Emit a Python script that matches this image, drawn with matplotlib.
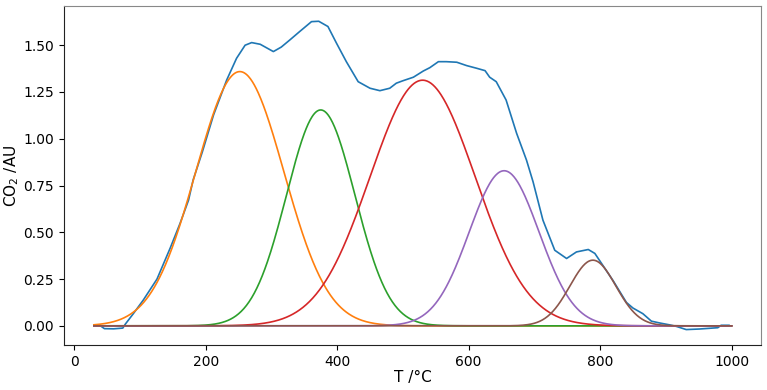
import numpy as np
import matplotlib
matplotlib.use("Agg")
import matplotlib.pyplot as plt

T_meas = [30, 40, 46, 60, 74, 78, 90, 105, 126, 146, 161, 174, 181, 195, 212,
          232, 247, 260, 270, 283, 303, 315, 328, 343, 361, 372, 379, 386, 399,
          414, 432, 450, 465, 480, 490, 500, 516, 531, 541, 554, 566, 582, 597,
          612, 625, 632, 642, 657, 673, 688, 698, 713, 731, 749, 764, 782, 792,
          800, 820, 840, 850, 865, 878, 891, 906, 916, 931, 951, 979, 984, 996]
co2_meas = [0.0, 0.0, -0.015, -0.016, -0.012, 0.01, 0.065, 0.137, 0.25, 0.415,
            0.547, 0.672, 0.78, 0.93, 1.127, 1.314, 1.43, 1.50, 1.514, 1.505,
            1.466, 1.49, 1.528, 1.573, 1.626, 1.628, 1.614, 1.60, 1.511, 1.412,
            1.305, 1.27, 1.257, 1.27, 1.297, 1.31, 1.329, 1.362, 1.38, 1.412,
            1.412, 1.409, 1.391, 1.377, 1.364, 1.329, 1.305, 1.207, 1.029, 0.886,
            0.77, 0.565, 0.404, 0.36, 0.395, 0.408, 0.387, 0.345, 0.24, 0.125,
            0.095, 0.065, 0.025, 0.015, 0.005, -0.003, -0.02, -0.017, -0.01,
            0.003, 0.003]

## Fitted gaussian peaks
centers = [252, 375, 530, 654, 789]
heights = [1.359, 1.154, 1.313, 0.829, 0.351]
sigmas = [67, 52, 80, 53, 35]
peak_colors = ["tab:orange", "tab:green", "tab:red", "tab:purple", "tab:brown"]

T = np.linspace(30, 1000, 971)

fig = plt.figure(figsize=(7.67, 3.9), dpi=100)
ax = fig.add_axes([0.0834, 0.1154, 0.9086, 0.8696])

ax.plot(T_meas, co2_meas, color="tab:blue", lw=1.2)
for c, h, s, col in zip(centers, heights, sigmas, peak_colors):
    ax.plot(T, h*np.exp(-(T - c)**2/(2*s**2)), color=col, lw=1.2)

ax.set_xlim(-15.5, 1044.5)
ax.set_xlabel("T /°C", fontsize=11, labelpad=1)
ax.set_ylabel("CO$_2$ /AU", fontsize=11, labelpad=2)
ax.tick_params(labelsize=10)
ax.set_yticks([0, 0.25, 0.5, 0.75, 1.0, 1.25, 1.5])
ax.set_xticks([0, 200, 400, 600, 800, 1000])

for side in ["top", "right"]:
    ax.spines[side].set_color("#888888")
for side in ["left", "bottom"]:
    ax.spines[side].set_color("#222222")

fig.savefig("out.png", dpi=100)
